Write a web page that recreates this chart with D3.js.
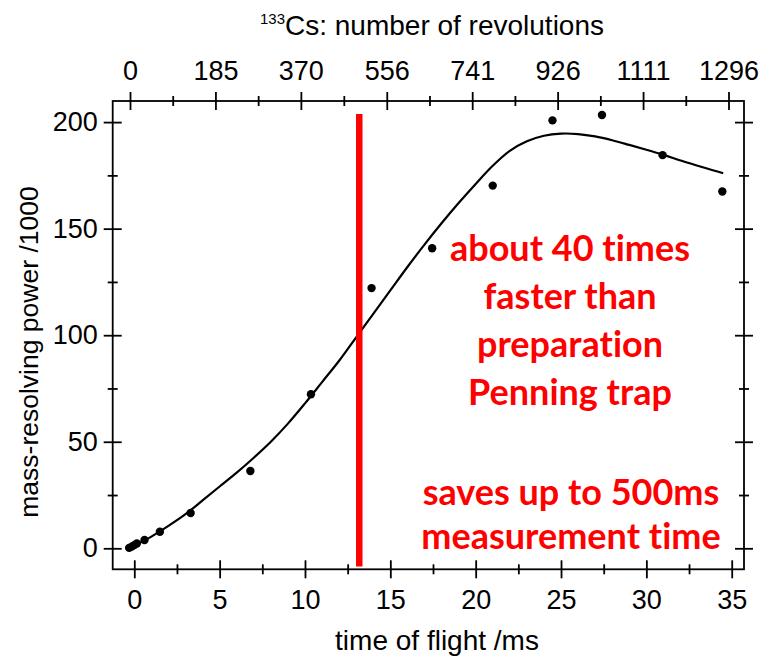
<!DOCTYPE html>
<html>
<head>
<meta charset="utf-8">
<script src="https://cdn.jsdelivr.net/npm/d3@7"></script>
<style>
  html, body { margin: 0; padding: 0; background: #fff; }
  svg { display: block; }
  .tick text, .axis-title { font-family: "Liberation Sans", Arial, sans-serif; fill: #000; }
  .note { font-family: Lato, "Open Sans", sans-serif; font-weight: 700; fill: #ff0000; font-variant-ligatures: none; }
</style>
</head>
<body>
<svg id="chart" width="762" height="657"></svg>
<script>
// Measured time of flight (ms) and mass-resolving power (/1000)
const tofMs = [-0.3, -0.15, 0.0, 0.15, 0.6, 1.5, 3.3, 6.8, 10.35, 13.9, 17.45, 21.0, 24.5, 27.4, 30.95, 34.45];
const resolvingPower = [0.2, 0.8, 1.5, 2.3, 3.9, 7.8, 16.6, 36.3, 72.3, 122.1, 140.8, 170.2, 200.8, 203.3, 184.5, 167.4];

// Fitted trend through the measurements
const fitMs = [-0.3, 0, 1, 2, 3, 4, 5, 6, 7, 8, 9, 10, 11, 12, 13, 14, 15, 16, 17, 18, 19, 20, 21, 22, 23, 24, 25, 26, 27, 28, 29, 30, 31, 32, 33, 34, 34.5];
const fitPower = [0, 1.3, 5.5, 10.5, 16, 22.5, 29, 35.5, 42.5, 50, 58.5, 68, 78, 88, 99, 110, 121, 132, 142.5, 152.5, 162, 171, 179.5, 186.5, 191, 193.6, 194.6, 194.4, 193.3, 191.5, 189.3, 187, 184.6, 182, 179.5, 177.2, 176];

// Axis ticks
const xTicks = [0, 5, 10, 15, 20, 25, 30, 35];
const xMinorTicks = [2.5, 7.5, 12.5, 17.5, 22.5, 27.5, 32.5];
const yTicks = [0, 50, 100, 150, 200];
const yMinorTicks = [25, 75, 125, 175];
const revTicks = [0, 185, 370, 556, 741, 926, 1111, 1296];
const revMinorTicks = [92.5, 277.5, 463, 648.5, 833.5, 1018.5, 1203.5];

// Marker: time of flight where the trap becomes competitive
const markerMs = [13.18];
const markerRange = [-8.5, 203.8];

const noteLines = ["about 40 times", "faster than", "preparation", "Penning trap"];
const noteLines2 = ["saves up to 500ms", "measurement time"];

const svg = d3.select("#chart");
const frame = { left: 112.7, right: 744, top: 101, bottom: 569.3 };

const x = d3.scaleLinear().domain([-1.265, 35.72]).range([frame.left, frame.right]);
const y = d3.scaleLinear().domain([-9.85, 209.9]).range([frame.bottom, frame.top]);
const xRev = d3.scaleLinear().domain([0, 1296]).range([130, 728.5]);

const tickFont = 27;
const titleFont = 28;

// Frame
svg.append("rect")
  .attr("x", frame.left).attr("y", frame.top)
  .attr("width", frame.right - frame.left).attr("height", frame.bottom - frame.top)
  .attr("fill", "none").attr("stroke", "#000").attr("stroke-width", 1.8);

function styleTicks(g) {
  g.selectAll(".tick line").attr("stroke", "#000").attr("stroke-width", 1.8);
  g.selectAll(".domain").remove();
}

// Major ticks (optionally labelled) and unlabelled minor ticks, both crossing the frame
function drawAxis(axisFn, scale, ticks, minor, transform, labels) {
  const major = svg.append("g").attr("transform", transform)
    .call(axisFn(scale).tickValues(ticks).tickSizeOuter(0)
      .tickFormat(labels ? (d => d) : () => ""));
  styleTicks(major);
  const mn = svg.append("g").attr("transform", transform)
    .call(axisFn(scale).tickValues(minor).tickSizeOuter(0).tickFormat(() => ""));
  styleTicks(mn);
  return [major, mn];
}

// Bottom axis (time of flight)
const [bMaj, bMin] = drawAxis(d3.axisBottom, x, xTicks, xMinorTicks, `translate(0,${frame.bottom})`, true);
bMaj.selectAll(".tick line").attr("y1", -9).attr("y2", 9);
bMin.selectAll(".tick line").attr("y1", -5).attr("y2", 5);
bMaj.selectAll(".tick text").attr("y", 21).attr("dy", "0.71em").attr("font-size", tickFont);

// Top axis (revolutions)
const [tMaj, tMin] = drawAxis(d3.axisTop, xRev, revTicks, revMinorTicks, `translate(0,${frame.top})`, true);
tMaj.selectAll(".tick line").attr("y1", -9).attr("y2", 9);
tMin.selectAll(".tick line").attr("y1", -5).attr("y2", 5);
tMaj.selectAll(".tick text").attr("y", -21).attr("dy", 0).attr("font-size", tickFont);

// Left axis
const [lMaj, lMin] = drawAxis(d3.axisLeft, y, yTicks, yMinorTicks, `translate(${frame.left},0)`, true);
lMaj.selectAll(".tick line").attr("x1", -9).attr("x2", 9);
lMin.selectAll(".tick line").attr("x1", -5).attr("x2", 5);
lMaj.selectAll(".tick text").attr("x", -15).attr("font-size", tickFont);

// Right axis
const [rMaj, rMin] = drawAxis(d3.axisRight, y, yTicks, yMinorTicks, `translate(${frame.right},0)`, false);
rMaj.selectAll(".tick line").attr("x1", -9).attr("x2", 9);
rMin.selectAll(".tick line").attr("x1", -5).attr("x2", 5);

// Axis titles
svg.append("text").attr("class", "axis-title")
  .attr("x", 437).attr("y", 650).attr("text-anchor", "middle").attr("font-size", titleFont)
  .text("time of flight /ms");

const topTitle = svg.append("text").attr("class", "axis-title")
  .attr("x", 432).attr("y", 35).attr("text-anchor", "middle").attr("font-size", titleFont);
topTitle.append("tspan").attr("font-size", 15).attr("dy", -11).text("133");
topTitle.append("tspan").attr("dy", 11).text("Cs: number of revolutions");

svg.append("text").attr("class", "axis-title")
  .attr("transform", `translate(38,352) rotate(-90)`)
  .attr("text-anchor", "middle").attr("font-size", 26.5)
  .text("mass-resolving power /1000");

// Fit curve
const line = d3.line().x((d, i) => x(fitMs[i])).y(d => y(d)).curve(d3.curveCatmullRom);
svg.append("path").datum(fitPower)
  .attr("d", line).attr("fill", "none").attr("stroke", "#000").attr("stroke-width", 2.2);

// Measurements
svg.append("g").selectAll("circle").data(resolvingPower).join("circle")
  .attr("cx", (d, i) => x(tofMs[i])).attr("cy", d => y(d)).attr("r", 4.2).attr("fill", "#000");

// Marker line
svg.append("g").selectAll("line").data(markerMs).join("line")
  .attr("x1", d => x(d)).attr("x2", d => x(d))
  .attr("y1", y(markerRange[0])).attr("y2", y(markerRange[1]))
  .attr("stroke", "#ff0000").attr("stroke-width", 6.5);

// Annotation
svg.append("g").selectAll("text").data(noteLines).join("text").attr("class", "note")
  .attr("x", 570).attr("y", (d, i) => 261 + i * 48).attr("text-anchor", "middle").attr("font-size", 36)
  .text(d => d);
svg.append("g").selectAll("text").data(noteLines2).join("text").attr("class", "note")
  .attr("x", 571).attr("y", (d, i) => 505 + i * 44).attr("text-anchor", "middle").attr("font-size", 36)
  .text(d => d);
</script>
</body>
</html>
